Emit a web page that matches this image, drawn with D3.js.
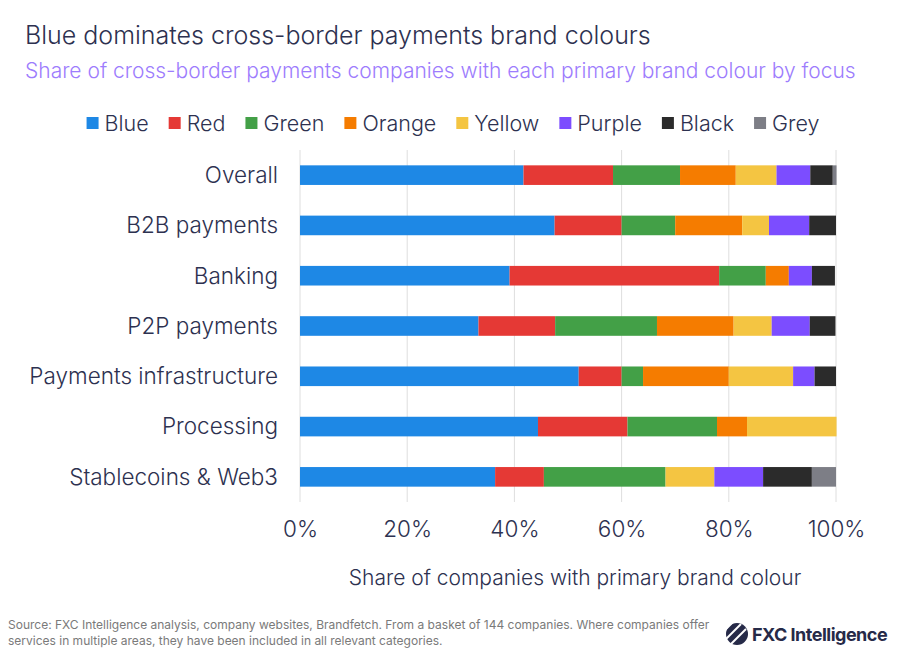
<!DOCTYPE html>
<html>
<head>
<meta charset="utf-8">
<script src="https://cdn.jsdelivr.net/npm/d3@7"></script>
<style>
  body { margin: 0; background: #fff; }
  svg { font-family: Inter, "Noto Sans", sans-serif; }
</style>
</head>
<body>
<div id="chart"></div>
<script>
const width = 900;
const height = 656;

// categories (focus areas)
const categories = ["Overall", "B2B payments", "Banking", "P2P payments",
  "Payments infrastructure", "Processing", "Stablecoins & Web3"];

// colour names and swatches
const colourNames = ["Blue", "Red", "Green", "Orange", "Yellow", "Purple", "Black", "Grey"];
const swatches = ["#1e88e5", "#e53935", "#43a047", "#f57c00", "#f4c542", "#7c4dff", "#2b2b2b", "#7d7e86"];

// share of companies (%) per colour, by category
const blue   = [41.7, 47.5, 39.1, 33.3, 52.0, 44.4, 36.4];
const red    = [16.7, 12.5, 39.1, 14.3, 8.0, 16.7, 9.1];
const green  = [12.5, 10.0, 8.7, 19.0, 4.0, 16.7, 22.7];
const orange = [10.4, 12.5, 4.3, 14.3, 16.0, 5.6, 0];
const yellow = [7.6, 5.0, 0, 7.1, 12.0, 16.7, 9.1];
const purple = [6.3, 7.5, 4.3, 7.1, 4.0, 0, 9.1];
const black  = [4.2, 5.0, 4.3, 4.8, 4.0, 0, 9.1];
const grey   = [0.7, 0, 0, 0, 0, 0, 4.5];

const xTicks = [0, 20, 40, 60, 80, 100];

const seriesValues = [blue, red, green, orange, yellow, purple, black, grey];
const rows = categories.map((c, i) => {
  const r = { category: c };
  colourNames.forEach((k, j) => r[k] = seriesValues[j][i]);
  return r;
});

const svg = d3.select("#chart").append("svg")
  .attr("width", width)
  .attr("height", height);

const textColour = "#2d3150";

// title + subtitle
svg.append("text")
  .attr("x", 25).attr("y", 44)
  .attr("font-size", 25).attr("font-weight", 300)
  .attr("fill", textColour)
  .text("Blue dominates cross-border payments brand colours");

svg.append("text")
  .attr("x", 25).attr("y", 78)
  .attr("font-size", 21).attr("font-weight", 300)
  .attr("fill", "#9d7cfd")
  .text("Share of cross-border payments companies with each primary brand colour by focus");

// scales
const x = d3.scaleLinear().domain([0, 100]).range([300, 836]);
const y = d3.scaleBand().domain(categories).range([150, 502]).paddingInner(0.61).paddingOuter(0.305);

// gridlines
svg.append("g")
  .selectAll("line")
  .data(xTicks)
  .enter().append("line")
  .attr("x1", d => x(d)).attr("x2", d => x(d))
  .attr("y1", 150).attr("y2", 502)
  .attr("stroke", "#dedede").attr("stroke-width", 1);

// stacked bars
const stack = d3.stack().keys(colourNames);
const stacked = stack(rows);

svg.append("g")
  .selectAll("g")
  .data(stacked)
  .enter().append("g")
  .attr("fill", (d, i) => swatches[i])
  .selectAll("rect")
  .data(d => d)
  .enter().append("rect")
  .attr("x", d => x(d[0]))
  .attr("y", d => y(d.data.category))
  .attr("width", d => Math.max(0, x(d[1]) - x(d[0])))
  .attr("height", y.bandwidth());

// category labels
svg.append("g")
  .selectAll("text")
  .data(categories)
  .enter().append("text")
  .attr("x", 278)
  .attr("y", d => y(d) + y.bandwidth() / 2)
  .attr("dy", "0.35em")
  .attr("text-anchor", "end")
  .attr("font-size", 22.5).attr("font-weight", 300)
  .attr("fill", textColour)
  .text(d => d);

// x axis tick labels
const xAxis = d3.axisBottom(x)
  .tickValues(xTicks)
  .tickFormat(d => d + "%")
  .tickSize(0)
  .tickPadding(0);

const axisG = svg.append("g")
  .attr("transform", "translate(0,521)")
  .call(xAxis);
axisG.select(".domain").remove();
axisG.selectAll("text")
  .attr("font-family", "Inter, sans-serif")
  .attr("font-size", 22.5).attr("font-weight", 300)
  .attr("fill", textColour);

svg.append("text")
  .attr("x", 575).attr("y", 585)
  .attr("text-anchor", "middle")
  .attr("font-size", 21).attr("font-weight", 300)
  .attr("fill", textColour)
  .text("Share of companies with primary brand colour");

// legend
const legend = svg.append("g");
let lx = 0;
colourNames.forEach((name, i) => {
  const item = legend.append("g").attr("transform", `translate(${lx},0)`);
  item.append("rect")
    .attr("x", 0).attr("y", -6)
    .attr("width", 12).attr("height", 12)
    .attr("fill", swatches[i]);
  const t = item.append("text")
    .attr("x", 18).attr("y", 0).attr("dy", "0.35em")
    .attr("font-size", 21.5).attr("font-weight", 300)
    .attr("fill", textColour)
    .text(name);
  lx += 18 + t.node().getComputedTextLength() + 20;
});
const legendWidth = lx - 20;
legend.attr("transform", `translate(${(width - legendWidth) / 2 + 3},123)`);

// source note
const note = svg.append("text")
  .attr("x", 8).attr("y", 629)
  .attr("font-size", 12)
  .attr("fill", "#7a7a7a");
note.append("tspan").attr("x", 8)
  .text("Source: FXC Intelligence analysis, company websites, Brandfetch. From a basket of 144 companies. Where companies offer");
note.append("tspan").attr("x", 8).attr("dy", 16)
  .text("services in multiple areas, they have been included in all relevant categories.");

// logo
const logo = svg.append("g").attr("transform", "translate(737,634)");
logo.append("circle").attr("r", 11).attr("fill", "#262a48");
[-5, 0, 5].forEach(o => {
  logo.append("line")
    .attr("x1", -12 + o).attr("y1", 6 + o)
    .attr("x2", 4 + o).attr("y2", -10 + o)
    .attr("stroke", "#fff").attr("stroke-width", 2);
});
svg.append("text")
  .attr("x", 752).attr("y", 641)
  .attr("font-size", 18).attr("font-weight", 700)
  .attr("letter-spacing", -0.5)
  .attr("fill", "#262a48")
  .text("FXC Intelligence");
</script>
</body>
</html>
